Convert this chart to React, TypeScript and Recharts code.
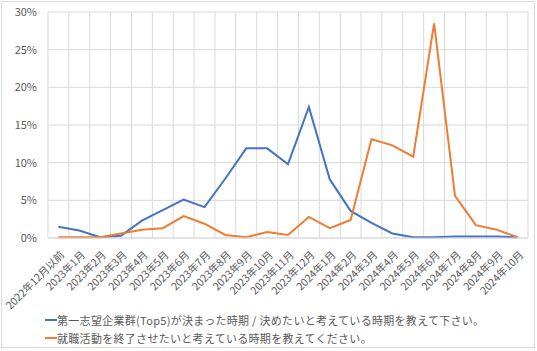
import { LineChart, Line, XAxis, YAxis, CartesianGrid } from "recharts"

const months = [
  "2022年12月以前",
  "2023年1月", "2023年2月", "2023年3月", "2023年4月", "2023年5月", "2023年6月",
  "2023年7月", "2023年8月", "2023年9月", "2023年10月", "2023年11月", "2023年12月",
  "2024年1月", "2024年2月", "2024年3月", "2024年4月", "2024年5月", "2024年6月",
  "2024年7月", "2024年8月", "2024年9月", "2024年10月",
]

const firstChoice = [
  1.5, 1.0, 0.1, 0.3, 2.3, 3.7, 5.1, 4.1, 7.9, 11.9, 11.9, 9.8,
  17.4, 7.8, 3.6, 2.0, 0.6, 0.1, 0.1, 0.2, 0.2, 0.2, 0.1,
]

const finishJobHunt = [
  0.1, 0.1, 0.1, 0.6, 1.1, 1.3, 2.9, 1.9, 0.4, 0.1, 0.8, 0.4,
  2.8, 1.3, 2.4, 13.1, 12.3, 10.8, 28.5, 5.6, 1.7, 1.1, 0.1,
]

const yTicks = [0, 5, 10, 15, 20, 25, 30]

const seriesNames = [
  "第一志望企業群(Top5)が決まった時期 / 決めたいと考えている時期を教えて下さい。",
  "就職活動を終了させたいと考えている時期を教えてください。",
]
const colors = ["#4472C4", "#ED7D31"]

const data = months.map((m, i) => ({
  month: m,
  a: firstChoice[i],
  b: finishJobHunt[i],
}))

const font = '"Noto Sans CJK JP", "Noto Sans", sans-serif'

const XTick = (props: any) => {
  const { x, y, payload } = props
  return (
    <g transform={`translate(${x + 4},${y + 7})`}>
      <text
        transform="rotate(-45)"
        textAnchor="end"
        dy="0.35em"
        fontSize={10.5}
        fill="#595959"
        fontFamily={font}
      >
        {payload.value}
      </text>
    </g>
  )
}

export default function App() {
  return (
    <div
      style={{
        position: "absolute",
        left: 0,
        top: 0,
        width: 537,
        height: 351,
        background: "#fff",
        fontFamily: font,
      }}
    >
      <div
        style={{
          position: "absolute",
          left: 1,
          top: 1,
          width: 532,
          height: 345,
          border: "1px solid #d9d9d9",
        }}
      />
      <div style={{ position: "absolute", left: 0, top: 0 }}>
        <LineChart
          width={537}
          height={351}
          data={data}
          margin={{ top: 12, right: 9, left: 0, bottom: 51 }}
        >
          <CartesianGrid
            stroke="#d9d9d9"
            verticalCoordinatesGenerator={({ offset }: any) =>
              months.map((_, i) => offset.left + (i * offset.width) / months.length).concat(offset.left + offset.width)
            }
          />
          <XAxis
            dataKey="month"
            interval={0}
            padding={{ left: 10.4, right: 10.4 }}
            axisLine={{ stroke: "#d9d9d9" }}
            tickLine={false}
            height={62}
            tick={<XTick />}
          />
          <YAxis
            width={48}
            domain={[0, 30]}
            ticks={yTicks}
            tickFormatter={(v: number) => `${v}%`}
            axisLine={false}
            tickLine={false}
            tickMargin={5}
            tick={{ fontSize: 11, fill: "#595959", fontFamily: font }}
          />
          <Line
            dataKey="a"
            stroke={colors[0]}
            strokeWidth={2}
            dot={false}
            isAnimationActive={false}
          />
          <Line
            dataKey="b"
            stroke={colors[1]}
            strokeWidth={2}
            dot={false}
            isAnimationActive={false}
          />
        </LineChart>
      </div>
      {seriesNames.map((name, i) => (
        <div
          key={name}
          style={{
            position: "absolute",
            left: 45,
            top: 311 + i * 18,
            height: 18,
            display: "flex",
            alignItems: "center",
            fontSize: 11,
            letterSpacing: 0.3,
            color: "#595959",
            whiteSpace: "nowrap",
          }}
        >
          <span
            style={{
              display: "inline-block",
              width: 12,
              height: 2,
              background: colors[i],
            }}
          />
          {name}
        </div>
      ))}
    </div>
  )
}
